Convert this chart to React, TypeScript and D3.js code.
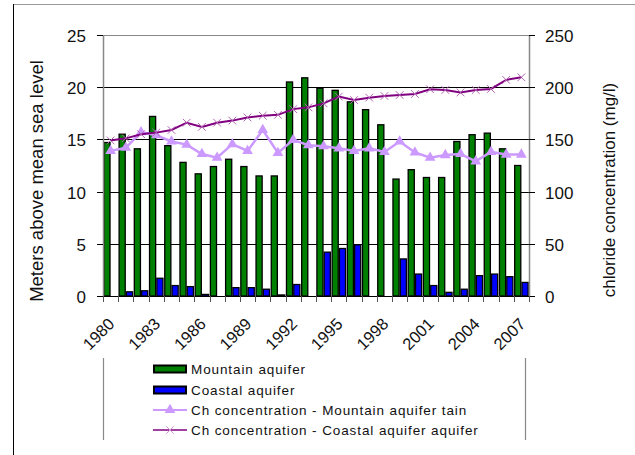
import React, { useRef, useEffect } from "react";
import * as d3 from "d3";

const years = [
  "1980", "1981", "1982", "1983", "1984", "1985", "1986", "1987", "1988", "1989",
  "1990", "1991", "1992", "1993", "1994", "1995", "1996", "1997", "1998", "1999",
  "2000", "2001", "2002", "2003", "2004", "2005", "2006", "2007",
];
// meters above mean sea level
const mountainLevel = [
  14.7, 15.5, 14.1, 17.2, 14.4, 12.8, 11.7, 12.4, 13.1, 12.4, 11.5, 11.5, 20.5, 20.9,
  19.9, 19.7, 18.6, 17.85, 16.4, 11.2, 12.1, 11.35, 11.35, 14.8, 15.45, 15.6, 14.1, 12.5,
];
const coastalLevel = [
  0, 0.4, 0.5, 1.7, 1.0, 0.9, 0.15, 0, 0.8, 0.8, 0.65, 0.1, 1.1, 0, 4.2, 4.55, 4.9, 0,
  0, 3.55, 2.1, 1.0, 0.35, 0.65, 1.95, 2.1, 1.85, 1.3,
];
// chloride mg/l
const chlMountain = [
  139, 142, 157, 154, 148, 145, 136, 132.5, 145.5, 139, 159, 137, 149.5, 144.5, 143.5,
  141.5, 139, 141.5, 138, 148, 137.5, 132.5, 135, 136, 129, 138, 135.5, 135.5,
];
const chlCoastal = [
  149, 151, 155, 156.5, 159, 166, 162, 166, 168, 171, 172.7, 173.5, 179, 180.7, 184.5,
  191, 187.7, 190, 191.6, 192.5, 193.5, 198, 197.3, 195, 197.3, 198.3, 207, 209.5,
];
const leftTicks = [0, 5, 10, 15, 20, 25];
const rightTicks = [0, 50, 100, 150, 200, 250];
const legendLabels = [
  "Mountain aquifer",
  "Coastal aquifer",
  "Ch concentration - Mountain aquifer tain",
  "Ch concentration - Coastal aquifer aquifer",
];

const FONT = "'Liberation Sans', Arial, sans-serif";

export default function App() {
  const svgRef = useRef<SVGSVGElement>(null);

  useEffect(() => {
    document.body.style.margin = "0";
    const width = 635;
    const height = 455;
    const plot = { left: 103, right: 529, top: 35, bottom: 296 };

    const svg = d3.select(svgRef.current);
    svg.selectAll("*").remove();
    svg.attr("width", width).attr("height", height).style("font-family", FONT);

    svg.append("rect").attr("width", width).attr("height", height).attr("fill", "#fff");

    // outer frame bits
    svg.append("line").attr("x1", 13).attr("x2", width).attr("y1", 4.5).attr("y2", 4.5)
      .attr("stroke", "#999").attr("stroke-width", 1);
    svg.append("line").attr("x1", 13.5).attr("x2", 13.5).attr("y1", 4).attr("y2", height)
      .attr("stroke", "#000").attr("stroke-width", 1);

    const x0 = d3.scaleBand().domain(years).range([plot.left, plot.right]).padding(0);
    const x1 = d3.scaleBand().domain(["m", "c"]).range([0, x0.bandwidth()])
      .paddingInner(0).paddingOuter(0.04);
    const yL = d3.scaleLinear().domain([0, 25]).range([plot.bottom, plot.top]);
    const yR = d3.scaleLinear().domain([0, 250]).range([plot.bottom, plot.top]);

    /* grid */
    svg.append("g").selectAll("line")
      .data(leftTicks.filter((t) => t > 0 && t < 25))
      .enter().append("line")
      .attr("x1", plot.left).attr("x2", plot.right)
      .attr("y1", (d) => Math.round(yL(d)) + 0.5).attr("y2", (d) => Math.round(yL(d)) + 0.5)
      .attr("stroke", "#000").attr("stroke-width", 1);
    svg.append("line").attr("x1", plot.left).attr("x2", plot.right)
      .attr("y1", plot.top + 0.5).attr("y2", plot.top + 0.5).attr("stroke", "#888");

    /* bars */
    const bars = svg.append("g");
    years.forEach((yr, i) => {
      const series = [
        { key: "m", v: mountainLevel[i], fill: "#008000" },
        { key: "c", v: coastalLevel[i], fill: "#0000ff" },
      ];
      series.forEach((s) => {
        if (s.v <= 0) return;
        const x = (x0(yr) as number) + (x1(s.key) as number);
        const y = yL(s.v);
        bars.append("rect")
          .attr("x", x + 0.6).attr("y", y)
          .attr("width", x1.bandwidth() - 1.2).attr("height", plot.bottom - y)
          .attr("fill", s.fill).attr("stroke", "#000").attr("stroke-width", 1.3);
      });
    });

    /* axes lines */
    svg.append("line").attr("x1", plot.left).attr("x2", plot.right)
      .attr("y1", plot.bottom + 0.5).attr("y2", plot.bottom + 0.5).attr("stroke", "#000");
    svg.append("line").attr("x1", plot.left + 0.5).attr("x2", plot.left + 0.5)
      .attr("y1", plot.top).attr("y2", plot.bottom).attr("stroke", "#888").attr("stroke-width", 1.5);
    svg.append("line").attr("x1", plot.right + 0.5).attr("x2", plot.right + 0.5)
      .attr("y1", plot.top).attr("y2", plot.bottom).attr("stroke", "#888").attr("stroke-width", 1.5);

    /* left axis */
    const la = svg.append("g");
    leftTicks.forEach((t) => {
      const y = Math.round(yL(t)) + 0.5;
      la.append("line").attr("x1", plot.left - 6).attr("x2", plot.left).attr("y1", y).attr("y2", y)
        .attr("stroke", "#000");
      la.append("text").attr("x", plot.left - 17).attr("y", y).attr("dy", "0.36em")
        .attr("text-anchor", "end").attr("font-size", 17).attr("fill", "#111").text(t);
    });

    /* right axis */
    const ra = svg.append("g");
    rightTicks.forEach((t) => {
      const y = Math.round(yR(t)) + 0.5;
      ra.append("line").attr("x1", plot.right).attr("x2", plot.right + 6).attr("y1", y).attr("y2", y)
        .attr("stroke", "#000");
      ra.append("text").attr("x", plot.right + 16).attr("y", y).attr("dy", "0.36em")
        .attr("text-anchor", "start").attr("font-size", 17).attr("fill", "#111").text(t);
    });

    /* x axis ticks + labels */
    const xa = svg.append("g");
    years.concat(["end"]).forEach((yr, i) => {
      const x = Math.round(plot.left + i * x0.step()) + 0.5;
      xa.append("line").attr("x1", x).attr("x2", x).attr("y1", plot.bottom).attr("y2", plot.bottom + 6)
        .attr("stroke", "#555");
    });
    years.forEach((yr, i) => {
      if (i % 3 !== 0) return;
      const cx = (x0(yr) as number) + x0.bandwidth() / 2 + 5;
      xa.append("text")
        .attr("transform", `translate(${cx},${plot.bottom + 29}) rotate(-45)`)
        .attr("text-anchor", "end").attr("font-size", 16.5).attr("fill", "#111").text(yr);
    });

    /* axis titles */
    svg.append("text")
      .attr("transform", `translate(43,181) rotate(-90)`)
      .attr("text-anchor", "middle").attr("font-size", 18.5).attr("fill", "#111")
      .text("Meters above mean sea level");
    svg.append("text")
      .attr("transform", `translate(615,190) rotate(-90)`)
      .attr("text-anchor", "middle").attr("font-size", 17).attr("fill", "#111")
      .text("chloride concentration (mg/l)");

    /* lines */
    const cx = (i: number) => (x0(years[i]) as number) + x0.bandwidth() / 2;
    const lineM = d3.line<number>().x((d, i) => cx(i)).y((d) => yR(d));
    svg.append("path").attr("d", lineM(chlMountain)).attr("fill", "none")
      .attr("stroke", "#cc99ff").attr("stroke-width", 2.5);
    const tri = d3.symbol().type(d3.symbolTriangle).size(50);
    svg.append("g").selectAll("path").data(chlMountain).enter().append("path")
      .attr("d", tri).attr("transform", (d, i) => `translate(${cx(i)},${yR(d)})`)
      .attr("fill", "#cc99ff");

    svg.append("path").attr("d", lineM(chlCoastal)).attr("fill", "none")
      .attr("stroke", "#800080").attr("stroke-width", 2);
    const cross = d3.symbol().type(d3.symbolX).size(40);
    svg.append("g").selectAll("path").data(chlCoastal).enter().append("path")
      .attr("d", cross).attr("transform", (d, i) => `translate(${cx(i)},${yR(d)})`)
      .attr("fill", "none").attr("stroke", "#b266b2").attr("stroke-width", 1);

    /* legend */
    const lg = svg.append("g");
    lg.append("line").attr("x1", 103.5).attr("x2", 103.5).attr("y1", 358).attr("y2", 440)
      .attr("stroke", "#888").attr("stroke-width", 1.2);
    lg.append("line").attr("x1", 525.5).attr("x2", 525.5).attr("y1", 358).attr("y2", 440)
      .attr("stroke", "#888").attr("stroke-width", 1.2);
    const rows = [369, 390, 410, 430];
    lg.append("rect").attr("x", 154).attr("y", rows[0] - 3.5).attr("width", 32).attr("height", 7)
      .attr("fill", "#008000").attr("stroke", "#000").attr("stroke-width", 2);
    lg.append("rect").attr("x", 154).attr("y", rows[1] - 3.5).attr("width", 32).attr("height", 7)
      .attr("fill", "#0000ff").attr("stroke", "#000").attr("stroke-width", 2);
    lg.append("line").attr("x1", 153).attr("x2", 187).attr("y1", rows[2]).attr("y2", rows[2])
      .attr("stroke", "#cc99ff").attr("stroke-width", 2);
    lg.append("path").attr("d", tri).attr("transform", `translate(170,${rows[2]})`).attr("fill", "#cc99ff");
    lg.append("line").attr("x1", 153).attr("x2", 187).attr("y1", rows[3]).attr("y2", rows[3])
      .attr("stroke", "#800080").attr("stroke-width", 1.5);
    lg.append("path").attr("d", cross).attr("transform", `translate(170,${rows[3]})`)
      .attr("fill", "none").attr("stroke", "#d099d0").attr("stroke-width", 1);
    legendLabels.forEach((t, i) => {
      lg.append("text").attr("x", 191).attr("y", rows[i]).attr("dy", "0.36em")
        .attr("font-size", 13.5).attr("letter-spacing", 0.9).attr("fill", "#111").text(t);
    });
  }, []);

  return (
    <div style={{ width: 635, height: 455 }}>
      <svg ref={svgRef} style={{ display: "block" }}></svg>
    </div>
  );
}
